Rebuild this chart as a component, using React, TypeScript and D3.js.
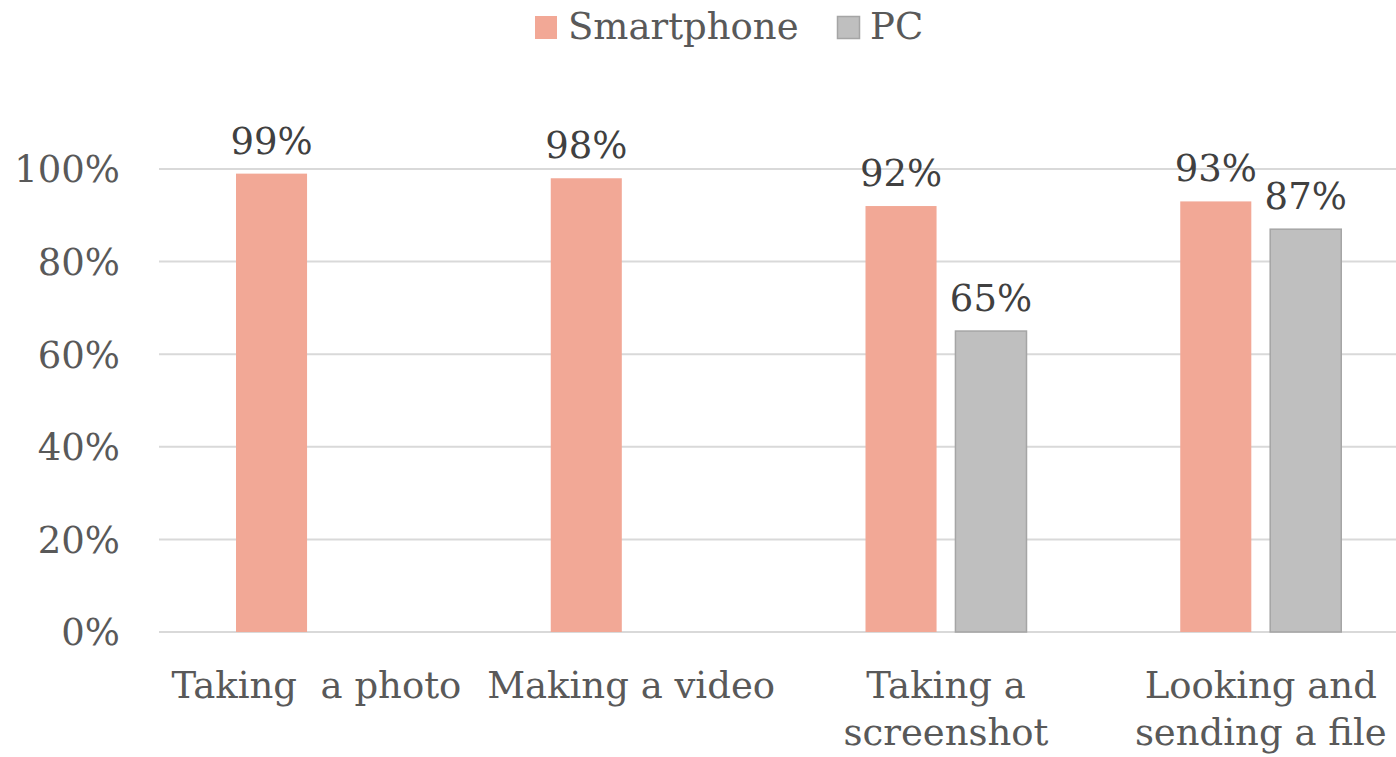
import React from "react";
import * as d3 from "d3";

const categories: string[][] = [
  ["Taking  a photo"],
  ["Making a video"],
  ["Taking a", "screenshot"],
  ["Looking and", "sending a file"],
];
const seriesNames = ["Smartphone", "PC"];
const smartphone: (number | null)[] = [0.99, 0.98, 0.92, 0.93];
const pc: (number | null)[] = [null, null, 0.65, 0.87];
const yTicks = [0, 0.2, 0.4, 0.6, 0.8, 1.0];

const W = 1396;
const H = 757;
const FONT = "'DejaVu Serif', serif";
const FS = 37;
const fill: Record<string, string> = { Smartphone: "#F2A896", PC: "#BFBFBF" };
const stroke: Record<string, string> = { Smartphone: "none", PC: "#A5A5A5" };

export default function App() {
  const x0 = d3.scaleBand<number>().domain(d3.range(categories.length)).range([159, 1418]).padding(0);
  const x1 = d3.scaleBand<string>().domain(seriesNames).range([77, 238]).paddingInner(0.21).paddingOuter(0);
  const y = d3.scaleLinear().domain([0, 1]).range([632, 169]);
  const values: Record<string, (number | null)[]> = { Smartphone: smartphone, PC: pc };
  const pct = d3.format(".0%");

  return (
    <svg width={W} height={H} style={{ position: "absolute", left: 0, top: 0, background: "#fff" }} fontFamily={FONT}>
      {/* gridlines */}
      {yTicks.map((t) => (
        <line key={"g" + t} x1={159} x2={1418} y1={y(t)} y2={y(t)} stroke={t === 0 ? "#D9D9D9" : "#D9D9D9"} strokeWidth={2} />
      ))}
      {/* y labels */}
      {yTicks.map((t) => (
        <text key={"yl" + t} x={120} y={y(t)} dy="0.36em" textAnchor="end" fontSize={FS} fill="#595959">
          {pct(t)}
        </text>
      ))}
      {/* bars */}
      {categories.map((_, i) =>
        seriesNames.map((s) => {
          const v = values[s][i];
          if (v == null) return null;
          const bx = (x0(i) as number) + (x1(s) as number);
          const bw = x1.bandwidth();
          return (
            <g key={s + i}>
              <rect x={bx} y={y(v)} width={bw} height={y(0) - y(v)} fill={fill[s]} stroke={stroke[s]} strokeWidth={s === "PC" ? 1.5 : 0} />
              <text x={bx + bw / 2} y={y(v) - 20} textAnchor="middle" fontSize={FS} fill="#404040">
                {pct(v)}
              </text>
            </g>
          );
        })
      )}
      {/* category labels */}
      {categories.map((lines, i) => (
        <text key={"c" + i} x={(x0(i) as number) + 157.5} y={698} textAnchor="middle" fontSize={FS} fill="#595959" style={{ whiteSpace: "pre" }}>
          {lines.map((ln, j) => (
            <tspan key={j} x={(x0(i) as number) + (i < 2 ? x0.bandwidth() / 2 : 157.5)} dy={j === 0 ? 0 : 47}>
              {ln}
            </tspan>
          ))}
        </text>
      ))}
      {/* legend */}
      <rect x={535} y={16} width={22} height={23} fill={fill.Smartphone} />
      <text x={568} y={39} fontSize={FS} fill="#595959">Smartphone</text>
      <rect x={837.5} y={16.5} width={22} height={22} fill={fill.PC} stroke={stroke.PC} strokeWidth={1.5} />
      <text x={870} y={39} fontSize={FS} fill="#595959">PC</text>
    </svg>
  );
}
